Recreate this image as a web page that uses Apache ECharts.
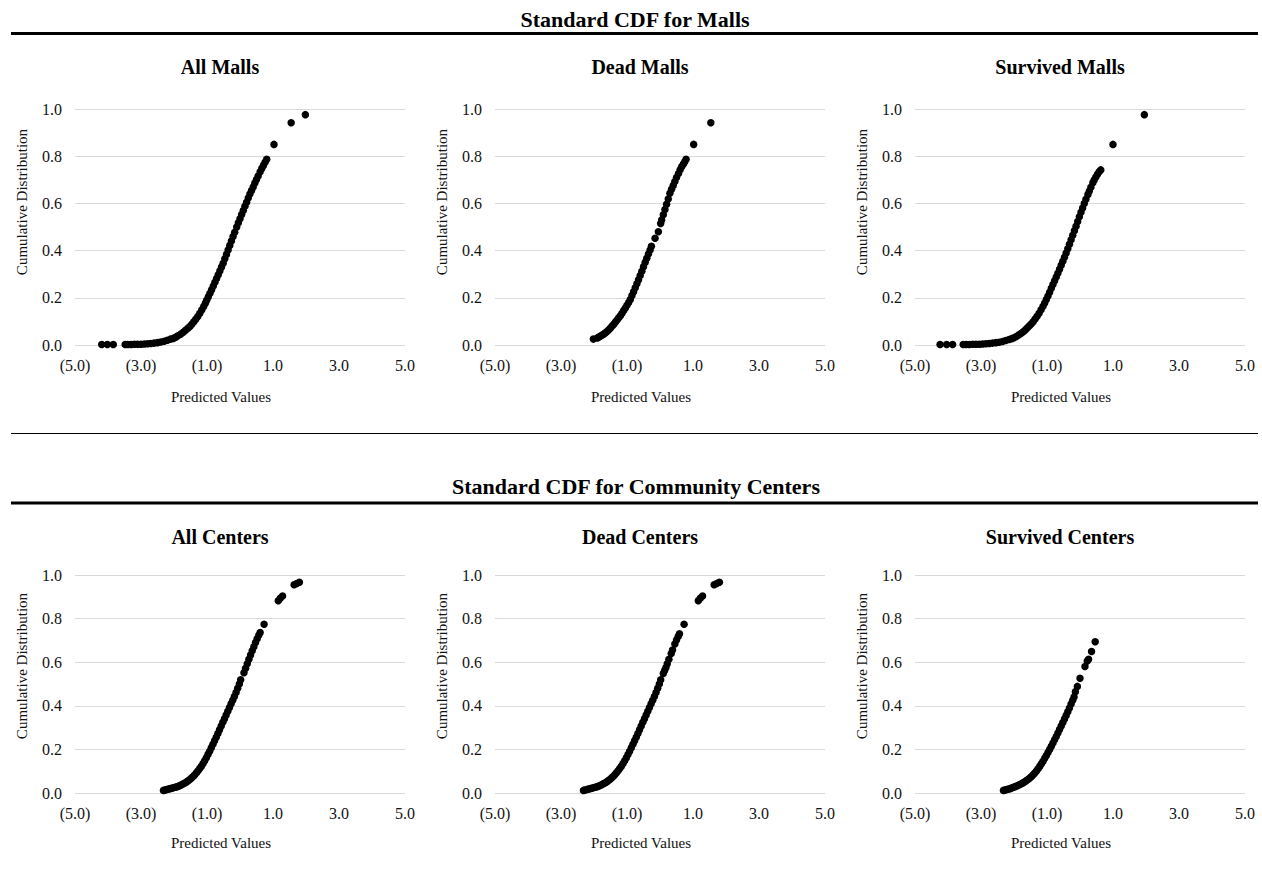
<!DOCTYPE html>
<html>
<head>
<meta charset="utf-8">
<script src="https://cdn.jsdelivr.net/npm/echarts@6/dist/echarts.min.js"></script>
<style>
html,body{margin:0;padding:0;background:#fff;}
#chart{width:1262px;height:874px;}
</style>
</head>
<body>
<div id="chart"></div>
<script>
// ---------- DATA ----------
const sectionTitles = ['Standard CDF for Malls', 'Standard CDF for Community Centers'];
const panelTitles = ['All Malls', 'Dead Malls', 'Survived Malls', 'All Centers', 'Dead Centers', 'Survived Centers'];
const xTicks = [-5, -3, -1, 1, 3, 5];
const xAxisName = 'Predicted Values';
const yAxisName = 'Cumulative Distribution';

const allMalls = [
  [-4.19,0.002],[-4.02,0.002],[-3.84,0.002],[-3.48,0.002],[-3.40,0.002],[-3.30,0.002],[-3.20,0.003],
  [-3.10,0.003],[-3.00,0.003],[-2.90,0.004],[-2.80,0.005],[-2.70,0.006],[-2.60,0.008],[-2.50,0.010],
  [-2.40,0.013],[-2.30,0.016],[-2.20,0.020],[-2.10,0.025],[-2.02,0.028],[-1.95,0.033],[-1.88,0.039],
  [-1.80,0.046],[-1.72,0.054],[-1.65,0.062],[-1.58,0.071],[-1.52,0.078],[-1.46,0.088],[-1.40,0.098],
  [-1.34,0.109],[-1.28,0.121],[-1.22,0.134],[-1.16,0.148],[-1.10,0.163],[-1.05,0.177],[-1.01,0.190],
  [-0.96,0.204],[-0.91,0.219],[-0.86,0.234],[-0.81,0.250],[-0.76,0.266],[-0.71,0.282],[-0.66,0.298],
  [-0.61,0.314],[-0.56,0.330],[-0.51,0.346],[-0.46,0.365],[-0.41,0.384],[-0.36,0.403],[-0.31,0.422],
  [-0.26,0.441],[-0.21,0.460],[-0.16,0.478],[-0.10,0.500],[-0.05,0.518],[0.00,0.535],[0.05,0.553],
  [0.10,0.570],[0.15,0.588],[0.20,0.605],[0.25,0.623],[0.30,0.640],[0.35,0.655],[0.40,0.670],
  [0.45,0.686],[0.50,0.701],[0.55,0.716],[0.61,0.734],[0.66,0.748],[0.71,0.761],[0.76,0.774],
  [0.81,0.787],[1.03,0.850],[1.55,0.942],[1.98,0.976]
];
const deadMalls = [
  [-2.02,0.025],[-1.90,0.030],[-1.85,0.034],[-1.80,0.038],[-1.75,0.042],[-1.70,0.047],[-1.65,0.052],
  [-1.60,0.058],[-1.55,0.065],[-1.50,0.072],[-1.45,0.080],[-1.40,0.088],[-1.35,0.097],[-1.30,0.106],
  [-1.25,0.115],[-1.20,0.124],[-1.15,0.135],[-1.10,0.146],[-1.05,0.157],[-1.00,0.168],[-0.95,0.180],
  [-0.90,0.193],[-0.85,0.210],[-0.80,0.226],[-0.75,0.243],[-0.70,0.260],[-0.65,0.277],[-0.60,0.294],
  [-0.55,0.313],[-0.50,0.332],[-0.45,0.350],[-0.40,0.368],[-0.35,0.386],[-0.30,0.403],[-0.26,0.418],
  [-0.15,0.452],[-0.05,0.480],[0.02,0.515],[0.05,0.530],[0.10,0.552],[0.15,0.574],[0.20,0.596],
  [0.25,0.619],[0.30,0.643],[0.35,0.660],[0.40,0.676],[0.45,0.693],[0.50,0.710],[0.56,0.727],
  [0.61,0.743],[0.66,0.756],[0.71,0.767],[0.75,0.777],[0.79,0.787],[1.02,0.850],[1.54,0.942]
];
const survivedMalls = [
  [-4.24,0.002],[-4.04,0.002],[-3.86,0.002],[-3.54,0.002],[-3.45,0.002],[-3.35,0.002],[-3.25,0.003],
  [-3.15,0.003],[-3.05,0.003],[-2.95,0.004],[-2.85,0.005],[-2.75,0.006],[-2.65,0.008],[-2.55,0.010],
  [-2.45,0.012],[-2.35,0.015],[-2.25,0.019],[-2.15,0.023],[-2.07,0.027],[-2.00,0.031],[-1.93,0.036],
  [-1.86,0.042],[-1.79,0.049],[-1.72,0.056],[-1.66,0.064],[-1.60,0.072],[-1.54,0.080],[-1.48,0.089],
  [-1.42,0.099],[-1.36,0.110],[-1.30,0.122],[-1.24,0.135],[-1.18,0.149],[-1.12,0.164],[-1.07,0.178],
  [-1.02,0.193],[-0.97,0.208],[-0.92,0.224],[-0.87,0.240],[-0.82,0.256],[-0.77,0.272],[-0.72,0.288],
  [-0.67,0.304],[-0.62,0.321],[-0.57,0.338],[-0.52,0.355],[-0.47,0.372],[-0.42,0.390],[-0.37,0.408],
  [-0.32,0.427],[-0.27,0.446],[-0.22,0.465],[-0.17,0.484],[-0.12,0.503],[-0.07,0.523],[-0.02,0.543],
  [0.03,0.562],[0.08,0.581],[0.13,0.600],[0.18,0.618],[0.24,0.638],[0.28,0.652],[0.33,0.668],
  [0.39,0.687],[0.43,0.699],[0.48,0.712],[0.53,0.724],[0.58,0.734],[0.63,0.742],[1.00,0.850],[1.95,0.976]
];
const allCenters = [
  [-2.32,0.012],[-2.27,0.014],[-2.22,0.016],[-2.17,0.018],[-2.12,0.020],[-2.07,0.022],[-2.02,0.024],
  [-1.97,0.026],[-1.92,0.028],[-1.87,0.031],[-1.82,0.034],[-1.77,0.038],[-1.72,0.042],[-1.67,0.046],
  [-1.62,0.051],[-1.57,0.056],[-1.52,0.062],[-1.47,0.069],[-1.42,0.076],[-1.37,0.084],[-1.32,0.093],
  [-1.27,0.102],[-1.22,0.112],[-1.17,0.123],[-1.12,0.135],[-1.07,0.148],[-1.02,0.162],[-0.97,0.177],
  [-0.92,0.192],[-0.87,0.208],[-0.82,0.224],[-0.77,0.240],[-0.72,0.256],[-0.67,0.273],[-0.62,0.290],
  [-0.57,0.307],[-0.52,0.324],[-0.47,0.341],[-0.42,0.358],[-0.37,0.375],[-0.32,0.392],[-0.27,0.409],
  [-0.22,0.426],[-0.17,0.443],[-0.12,0.461],[-0.07,0.480],[-0.02,0.500],[0.02,0.519],[0.12,0.552],
  [0.17,0.572],[0.22,0.593],[0.27,0.613],[0.32,0.633],[0.37,0.652],[0.42,0.671],[0.47,0.690],
  [0.52,0.708],[0.57,0.724],[0.61,0.736],[0.73,0.774],[1.16,0.882],[1.22,0.893],[1.29,0.904],
  [1.64,0.955],[1.72,0.961],[1.80,0.967]
];
const deadCenters = [
  [-2.32,0.012],[-2.27,0.014],[-2.22,0.016],[-2.17,0.018],[-2.12,0.020],[-2.07,0.022],[-2.02,0.024],
  [-1.97,0.026],[-1.92,0.028],[-1.87,0.031],[-1.82,0.034],[-1.77,0.038],[-1.72,0.042],[-1.67,0.046],
  [-1.62,0.051],[-1.57,0.056],[-1.52,0.062],[-1.47,0.069],[-1.42,0.076],[-1.37,0.084],[-1.32,0.093],
  [-1.27,0.102],[-1.22,0.112],[-1.17,0.123],[-1.12,0.135],[-1.07,0.148],[-1.02,0.162],[-0.97,0.177],
  [-0.92,0.192],[-0.87,0.208],[-0.82,0.224],[-0.77,0.240],[-0.72,0.256],[-0.67,0.273],[-0.62,0.290],
  [-0.57,0.307],[-0.52,0.324],[-0.47,0.341],[-0.42,0.358],[-0.37,0.375],[-0.32,0.392],[-0.27,0.409],
  [-0.22,0.426],[-0.17,0.443],[-0.12,0.461],[-0.07,0.480],[-0.02,0.500],[0.02,0.519],[0.10,0.548],
  [0.14,0.562],[0.18,0.576],[0.22,0.593],[0.27,0.613],[0.34,0.640],[0.38,0.656],[0.45,0.683],
  [0.50,0.702],[0.55,0.718],[0.59,0.730],[0.73,0.774],[1.16,0.882],[1.22,0.893],[1.29,0.904],
  [1.64,0.955],[1.72,0.961],[1.80,0.967]
];
const survivedCenters = [
  [-2.32,0.012],[-2.27,0.014],[-2.22,0.016],[-2.17,0.018],[-2.12,0.020],[-2.07,0.023],[-2.02,0.026],
  [-1.97,0.029],[-1.92,0.032],[-1.87,0.035],[-1.82,0.039],[-1.77,0.043],[-1.72,0.047],[-1.67,0.052],
  [-1.62,0.057],[-1.57,0.063],[-1.52,0.069],[-1.47,0.076],[-1.42,0.084],[-1.37,0.092],[-1.32,0.101],
  [-1.27,0.111],[-1.22,0.122],[-1.17,0.134],[-1.12,0.146],[-1.07,0.159],[-1.02,0.172],[-0.97,0.186],
  [-0.92,0.200],[-0.87,0.215],[-0.82,0.229],[-0.77,0.244],[-0.72,0.259],[-0.67,0.275],[-0.62,0.291],
  [-0.57,0.307],[-0.52,0.323],[-0.47,0.339],[-0.42,0.356],[-0.37,0.373],[-0.32,0.390],[-0.27,0.408],
  [-0.22,0.426],[-0.18,0.440],[-0.14,0.465],[-0.08,0.489],[0.00,0.526],[0.15,0.580],[0.22,0.605],
  [0.26,0.613],[0.35,0.649],[0.46,0.694]
];
const panelData = [allMalls, deadMalls, survivedMalls, allCenters, deadCenters, survivedCenters];

// ---------- LAYOUT ----------
const gridLefts = [75, 495, 915];
const rowTops = [109, 575];
const rowHeights = [236, 218];
const plotWidth = 330;

const FONT = '"Liberation Serif", "Times New Roman", serif';
const TXT = '#111';
const fmtX = v => v < 0 ? '(' + Math.abs(v).toFixed(1) + ')' : v.toFixed(1);

const chart = echarts.init(document.getElementById('chart'), null, {renderer: 'svg'});

const grids = [], xAxes = [], yAxes = [], series = [], graphics = [];
for (let i = 0; i < 6; i++) {
  const row = Math.floor(i / 3), col = i % 3;
  const left = gridLefts[col], top = rowTops[row], h = rowHeights[row];
  grids.push({left: left, top: top, width: plotWidth, height: h, containLabel: false});
  xAxes.push({
    gridIndex: i, type: 'value', min: -5, max: 5, interval: 1,
    name: xAxisName, nameLocation: 'middle', nameGap: row === 0 ? 44 : 42,
    nameTextStyle: {fontFamily: FONT, fontSize: 15, color: TXT, padding: [0, 38, 0, 0]},
    axisLine: {show: false}, axisTick: {show: false}, splitLine: {show: false},
    axisLabel: {customValues: xTicks, formatter: fmtX, fontFamily: FONT, fontSize: 16, color: TXT, margin: 12}
  });
  yAxes.push({
    gridIndex: i, type: 'value', min: 0, max: 1, interval: 0.2,
    axisLine: {show: false}, axisTick: {show: false},
    splitLine: {show: true, lineStyle: {color: '#d9d9d9', width: 1}},
    axisLabel: {formatter: v => v.toFixed(1), fontFamily: FONT, fontSize: 16, color: TXT, margin: 13}
  });
  series.push({
    type: 'scatter', xAxisIndex: i, yAxisIndex: i, data: panelData[i],
    symbol: 'circle', symbolSize: 7.5, itemStyle: {color: '#000', opacity: 1}, silent: true
  });
  graphics.push({
    type: 'text', x: left + 145, y: row === 0 ? 67 : 537,
    style: {text: panelTitles[i], fontFamily: FONT, fontSize: 20, fontWeight: 'bold', fill: '#000', align: 'center', verticalAlign: 'middle'}
  });
  graphics.push({
    type: 'text', x: left - 53, y: row === 0 ? 202 : 666, rotation: Math.PI / 2,
    style: {text: yAxisName, fontFamily: FONT, fontSize: 15, fill: TXT, align: 'center', verticalAlign: 'middle'}
  });
}
graphics.push(
  {type: 'text', x: 635, y: 19, style: {text: sectionTitles[0], fontFamily: FONT, fontSize: 22, fontWeight: 'bold', fill: '#000', align: 'center', verticalAlign: 'middle'}},
  {type: 'text', x: 636, y: 486, style: {text: sectionTitles[1], fontFamily: FONT, fontSize: 22, fontWeight: 'bold', fill: '#000', align: 'center', verticalAlign: 'middle'}},
  {type: 'line', shape: {x1: 11, y1: 33.5, x2: 1258, y2: 33.5}, style: {stroke: '#000', lineWidth: 3}},
  {type: 'line', shape: {x1: 11, y1: 433.5, x2: 1258, y2: 433.5}, style: {stroke: '#000', lineWidth: 1}},
  {type: 'line', shape: {x1: 11, y1: 503, x2: 1258, y2: 503}, style: {stroke: '#000', lineWidth: 3}}
);

chart.setOption({
  backgroundColor: '#fff',
  animation: false,
  grid: grids, xAxis: xAxes, yAxis: yAxes, series: series,
  graphic: graphics
});
</script>
</body>
</html>
